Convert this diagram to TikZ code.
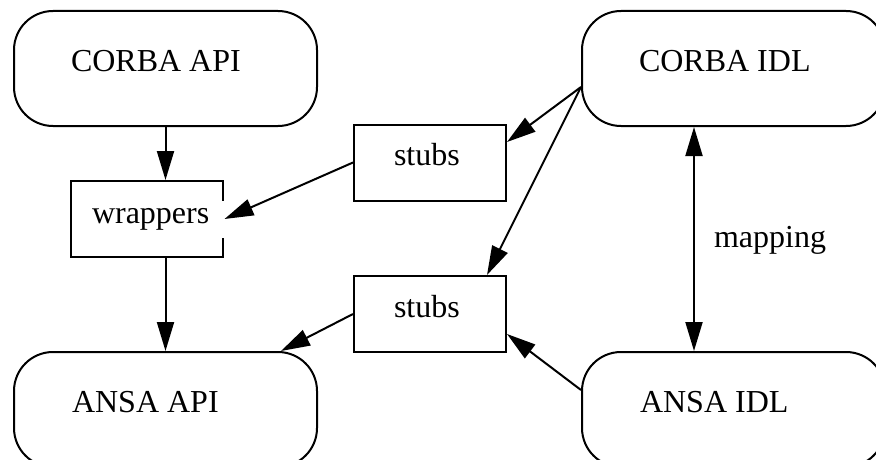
\documentclass[tikz,border=0pt]{standalone}
\usepackage{fontspec}
\setmainfont{Liberation Serif}
\usetikzlibrary{arrows.meta}
\begin{document}
\begin{tikzpicture}[x=1pt,y=-1pt,
  line width=2pt,
  rbox/.style={draw, rounded corners=39pt, minimum width=303pt, minimum height=115pt, inner sep=0pt},
  sbox/.style={draw, minimum width=152pt, minimum height=76pt, inner sep=0pt},
  lbl/.style={font=\fontsize{32}{38}\selectfont, inner sep=0pt, anchor=base west},
  arr/.style={-{Triangle[length=29pt,width=17pt]}},
  darr/.style={{Triangle[length=29pt,width=17pt]}-{Triangle[length=29pt,width=17pt]}}
]
\useasboundingbox (0,0) rectangle (876,460);
\clip (0,0) rectangle (876,460);

% boxes
\node[rbox] (capi) at (165.5,68.5) {};
\node[rbox] (cidl) at (733.5,68.5) {};
\node[rbox] (aapi) at (165.5,409.5) {};
\node[rbox] (aidl) at (733.5,409.5) {};
\node[sbox] (wrap) at (146.5,219) {};
\node[sbox] (sA) at (430,162.5) {};
\node[sbox] (sB) at (430,314) {};

% texts
\node[lbl] (tcapi) at (70,72) {CORBA API};
\node[lbl] (tcidl) at (638,72) {CORBA IDL};
\node[lbl] (taapi) at (71,412) {ANSA API};
\node[lbl] (taidl) at (639,412) {ANSA IDL};
\node[lbl] (twrap) at (91,223) {wrappers};
\node[lbl] (tsA) at (393,165) {stubs};
\node[lbl] (tsB) at (393,317) {stubs};
\node[lbl] (tmap) at (713,247) {mapping};

% gap in wrappers border
\draw[white, line width=2.8pt] ([yshift=18pt]wrap.east) -- ([yshift=-19pt]wrap.east);

% connectors
\draw[arr] (capi.south) -- (capi.south |- wrap.north);
\draw[arr] (capi.south |- wrap.south) -- (aapi.north);
\draw[arr] (sA.west) -- ([xshift=1pt]wrap.east);
\draw[arr] ([yshift=-18.5pt]cidl.west) -- ([yshift=20.5pt]sA.east);
\draw[arr] ([yshift=-18.5pt]cidl.west) -- ([xshift=57pt]sB.north);
\draw[arr] (sB.west) -- ([xshift=-37pt]aapi.north east);
\draw[arr] ([yshift=19.5pt]aidl.west) -- ([yshift=-20pt]sB.east);
\draw[darr] ([xshift=-39.5pt]cidl.south) -- ([xshift=-39.5pt]aidl.north);
\end{tikzpicture}
\end{document}
